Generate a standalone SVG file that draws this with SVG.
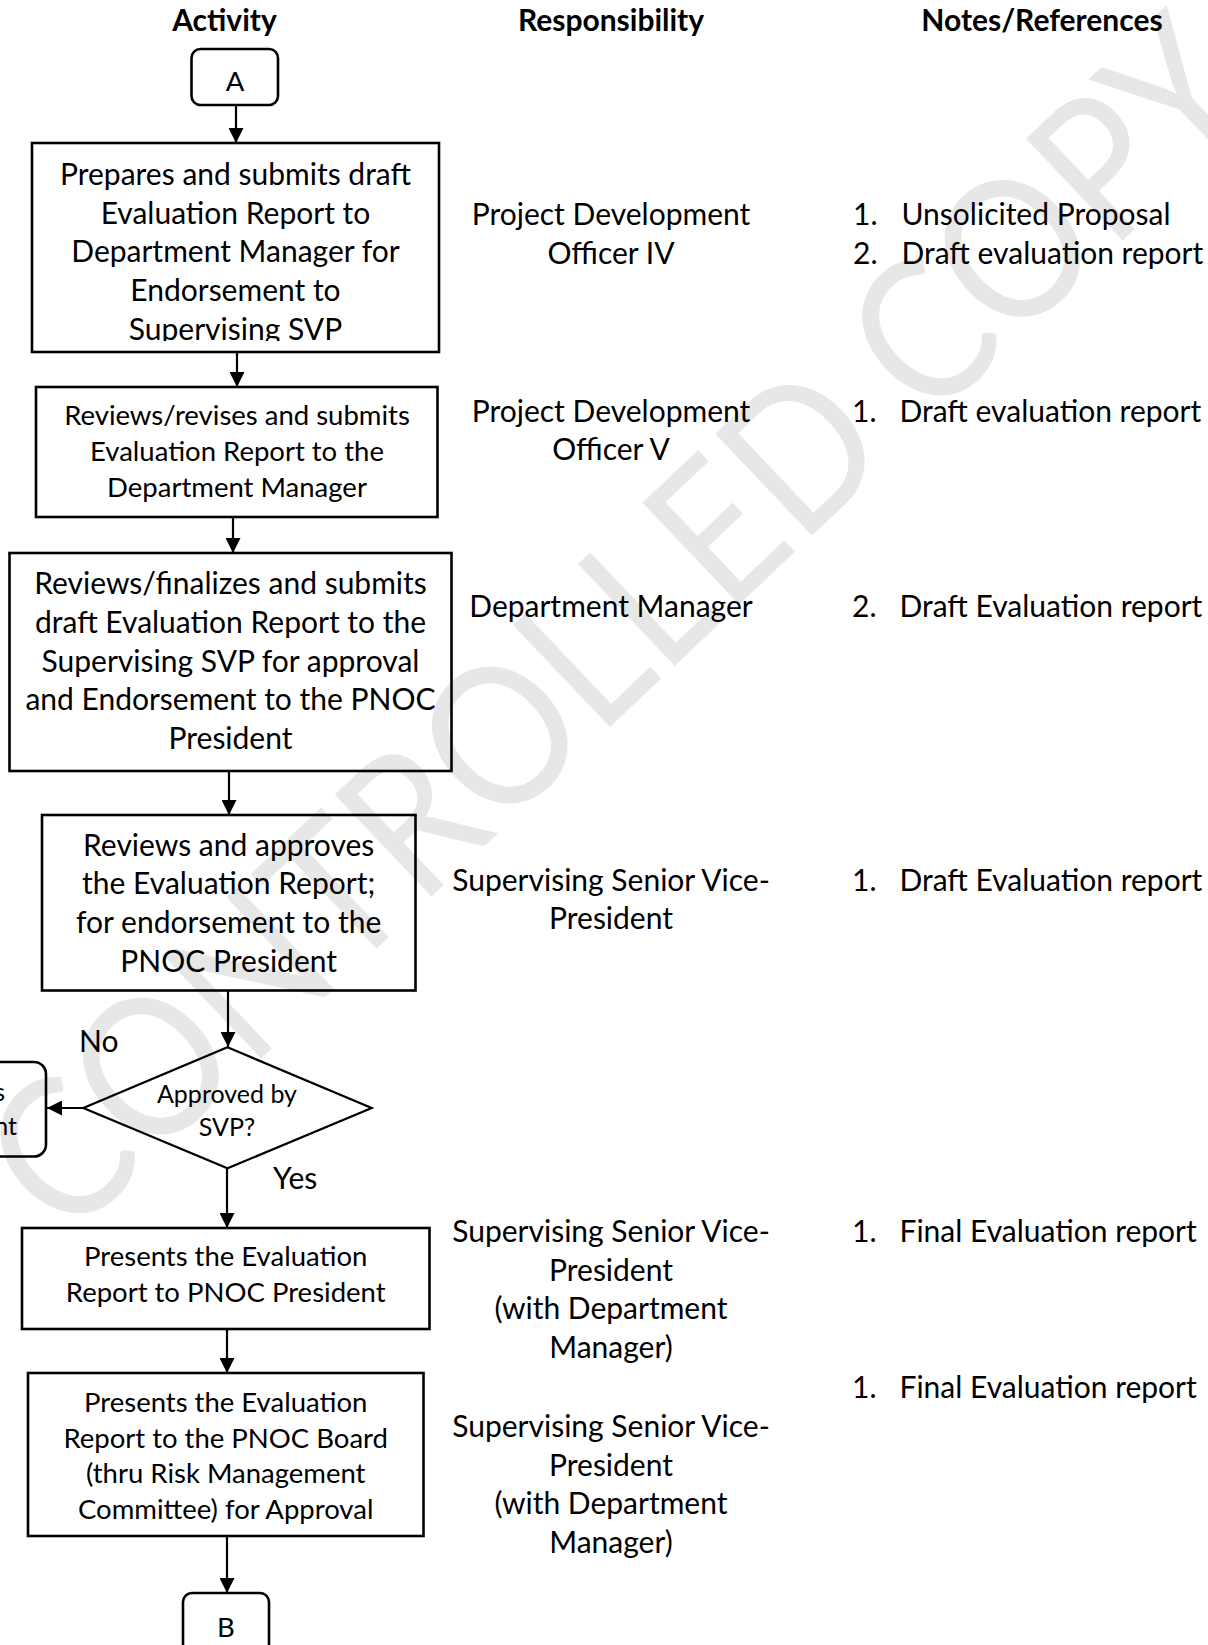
<svg xmlns="http://www.w3.org/2000/svg" width="1208" height="1645" viewBox="0 0 1208 1645">
<style>
.t{font-family:Lato,"Open Sans","Liberation Sans",sans-serif;fill:#000}
.c{text-anchor:middle}
.f32{font-size:30px}
.f29{font-size:27.5px}
.f27{font-size:25px}
.hd{font-size:30px;font-weight:bold}
.box{fill:none;stroke:#000;stroke-width:2.6}
.conn{fill:none;stroke:#000;stroke-width:2.2;marker-end:url(#arr)}
.wm{font-family:Lato,"Open Sans",sans-serif;font-size:196px;font-weight:normal;fill:#e7e7e7}
</style>
<defs>
<marker id="arr" viewBox="0 0 10 10" refX="10" refY="5" markerWidth="15" markerHeight="15" markerUnits="userSpaceOnUse" orient="auto">
<path d="M0,0 L10,5 L0,10 z" fill="#000"/>
</marker>
<clipPath id="clip1"><rect x="30" y="140" width="412" height="201"/></clipPath>
</defs>
<rect width="1208" height="1645" fill="#fff"/>
<g id="watermark">
<text class="wm" x="665" y="675" text-anchor="middle" transform="rotate(-43.5 665 675)" textLength="1650" lengthAdjust="spacingAndGlyphs">CONTROLLED COPY</text>
</g>
<g id="headers">
<text class="t c hd" x="224.5" y="30.5">Activity</text>
<text class="t c hd" x="611" y="30.5">Responsibility</text>
<text class="t c hd" x="1042" y="30.5">Notes/References</text>
</g>
<g id="connectors">
<line class="conn" x1="236" y1="105" x2="236" y2="143"/>
<line class="conn" x1="237" y1="352" x2="237" y2="387"/>
<line class="conn" x1="233" y1="517" x2="233" y2="553"/>
<line class="conn" x1="229" y1="771" x2="229" y2="815"/>
<line class="conn" x1="228" y1="991" x2="228" y2="1047"/>
<line class="conn" x1="83" y1="1108" x2="47" y2="1108"/>
<line class="conn" x1="227" y1="1168" x2="227" y2="1228"/>
<line class="conn" x1="227" y1="1329" x2="227" y2="1373"/>
<line class="conn" x1="227" y1="1536" x2="227" y2="1593"/>
</g>
<g id="nodeA">
<rect class="box" x="191.5" y="49" width="86.5" height="56" rx="9"/>
<text class="t c f29" x="235" y="90.5">A</text>
</g>
<g id="node1">
<rect class="box" x="32" y="143" width="407" height="209"/>
<g clip-path="url(#clip1)">
<text class="t c f32" x="235.5" y="184.7">Prepares and submits draft</text>
<text class="t c f32" x="235.5" y="223.5">Evaluation Report to</text>
<text class="t c f32" x="235.5" y="262.2">Department Manager for</text>
<text class="t c f32" x="235.5" y="301">Endorsement to</text>
<text class="t c f32" x="235.5" y="340">Supervising SVP</text>
</g>
</g>
<g id="node2">
<rect class="box" x="36" y="387" width="401.5" height="130"/>
<text class="t c f29" x="237" y="425">Reviews/revises and submits</text>
<text class="t c f29" x="237" y="460.7">Evaluation Report to the</text>
<text class="t c f29" x="237" y="496.5">Department Manager</text>
</g>
<g id="node3">
<rect class="box" x="9.5" y="553" width="442" height="218"/>
<text class="t c f32" x="230.5" y="594">Reviews/finalizes and submits</text>
<text class="t c f32" x="230.5" y="632.8">draft Evaluation Report to the</text>
<text class="t c f32" x="230.5" y="671.5">Supervising SVP for approval</text>
<text class="t c f32" x="230.5" y="710.3">and Endorsement to the PNOC</text>
<text class="t c f32" x="230.5" y="749.2">President</text>
</g>
<g id="node4">
<rect class="box" x="42" y="815" width="373.5" height="175.5"/>
<text class="t c f32" x="228.7" y="855.5">Reviews and approves</text>
<text class="t c f32" x="228.7" y="894.3">the Evaluation Report;</text>
<text class="t c f32" x="228.7" y="933">for endorsement to the</text>
<text class="t c f32" x="228.7" y="972">PNOC President</text>
</g>
<g id="decision">
<polygon class="box" points="227.5,1047.3 371.7,1108 227.5,1168.3 83.3,1108" style="stroke-width:2.2"/>
<text class="t c f27" x="227" y="1103">Approved by</text>
<text class="t c f27" x="227" y="1135.5">SVP?</text>
</g>
<g id="labels">
<text class="t f32" x="79" y="1052">No</text>
<text class="t f32" x="273" y="1188.5">Yes</text>
</g>
<g id="nodeLeft">
<rect class="box" x="-100" y="1062" width="146" height="94.5" rx="12"/>
<text class="t f27" x="5" y="1101" text-anchor="end">s</text>
<text class="t f27" x="17" y="1135" text-anchor="end">nt</text>
</g>
<g id="node5">
<rect class="box" x="22" y="1228" width="407.5" height="101"/>
<text class="t c f29" x="225.7" y="1265.5">Presents the Evaluation</text>
<text class="t c f29" x="225.7" y="1301.5">Report to PNOC President</text>
</g>
<g id="node6">
<rect class="box" x="28" y="1373" width="395.5" height="163"/>
<text class="t c f29" x="225.7" y="1412">Presents the Evaluation</text>
<text class="t c f29" x="225.7" y="1448">Report to the PNOC Board</text>
<text class="t c f29" x="225.7" y="1483">(thru Risk Management</text>
<text class="t c f29" x="225.7" y="1518.5">Committee) for Approval</text>
</g>
<g id="nodeB">
<rect class="box" x="183" y="1593" width="86" height="70" rx="9"/>
<text class="t c f29" x="226" y="1636.5">B</text>
</g>
<g id="responsibility">
<text class="t c f32" x="611" y="225">Project Development</text>
<text class="t c f32" x="611" y="263.5">Officer IV</text>
<text class="t c f32" x="611" y="421.5">Project Development</text>
<text class="t c f32" x="611" y="460">Officer V</text>
<text class="t c f32" x="611" y="616.5">Department Manager</text>
<text class="t c f32" x="611" y="890.5">Supervising Senior Vice-</text>
<text class="t c f32" x="611" y="929">President</text>
<text class="t c f32" x="611" y="1241.7">Supervising Senior Vice-</text>
<text class="t c f32" x="611" y="1280.5">President</text>
<text class="t c f32" x="611" y="1319.3">(with Department</text>
<text class="t c f32" x="611" y="1358">Manager)</text>
<text class="t c f32" x="611" y="1436.8">Supervising Senior Vice-</text>
<text class="t c f32" x="611" y="1475.5">President</text>
<text class="t c f32" x="611" y="1514.4">(with Department</text>
<text class="t c f32" x="611" y="1553.2">Manager)</text>
</g>
<g id="notes">
<text class="t f32" x="853" y="225">1.</text><text class="t f32" x="901.5" y="225">Unsolicited Proposal</text>
<text class="t f32" x="853" y="264">2.</text><text class="t f32" x="901.5" y="264">Draft evaluation report</text>
<text class="t f32" x="852" y="421.5">1.</text><text class="t f32" x="899.5" y="421.5">Draft evaluation report</text>
<text class="t f32" x="852" y="616.5">2.</text><text class="t f32" x="899.5" y="616.5">Draft Evaluation report</text>
<text class="t f32" x="852" y="890.5">1.</text><text class="t f32" x="899.5" y="890.5">Draft Evaluation report</text>
<text class="t f32" x="852" y="1241.7">1.</text><text class="t f32" x="899.5" y="1241.7">Final Evaluation report</text>
<text class="t f32" x="852" y="1398.3">1.</text><text class="t f32" x="899.5" y="1398.3">Final Evaluation report</text>
</g>
</svg>
